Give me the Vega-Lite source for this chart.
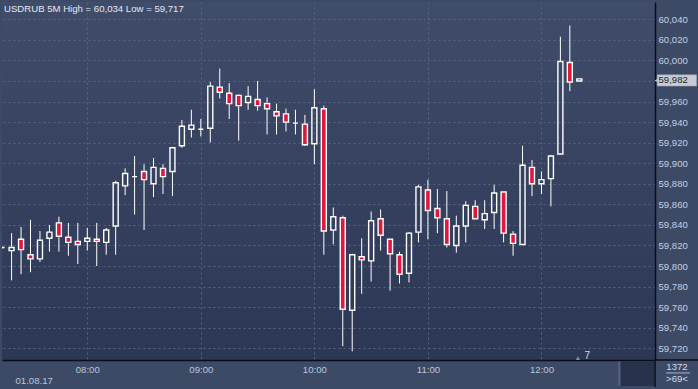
{
  "$schema": "https://vega.github.io/schema/vega-lite/v6.json",
  "width": 653,
  "height": 358,
  "autosize": {"type": "none"},
  "padding": {"left": 2, "top": 2, "right": 43, "bottom": 29},
  "background": "#3d4a66",
  "config": {
    "font": "Liberation Sans",
    "view": {
      "stroke": null,
      "fill": {"gradient": "linear", "x1": 0, "y1": 0, "x2": 0, "y2": 1,
        "stops": [{"offset": 0, "color": "#3f4c6a"}, {"offset": 1, "color": "#2c3754"}]}
    }
  },
  "data": {
    "values": [
      {"t": "2017-08-01T07:15:00Z", "o": 59.818, "h": 59.819, "l": 59.817, "c": 59.818},
      {"t": "2017-08-01T07:20:00Z", "o": 59.815, "h": 59.832, "l": 59.786, "c": 59.818},
      {"t": "2017-08-01T07:25:00Z", "o": 59.826, "h": 59.838, "l": 59.792, "c": 59.816},
      {"t": "2017-08-01T07:30:00Z", "o": 59.811, "h": 59.845, "l": 59.794, "c": 59.807},
      {"t": "2017-08-01T07:35:00Z", "o": 59.807, "h": 59.834, "l": 59.804, "c": 59.825},
      {"t": "2017-08-01T07:40:00Z", "o": 59.827, "h": 59.840, "l": 59.814, "c": 59.833},
      {"t": "2017-08-01T07:45:00Z", "o": 59.842, "h": 59.848, "l": 59.814, "c": 59.829},
      {"t": "2017-08-01T07:50:00Z", "o": 59.828, "h": 59.842, "l": 59.810, "c": 59.823},
      {"t": "2017-08-01T07:55:00Z", "o": 59.824, "h": 59.842, "l": 59.802, "c": 59.821},
      {"t": "2017-08-01T08:00:00Z", "o": 59.824, "h": 59.837, "l": 59.815, "c": 59.827},
      {"t": "2017-08-01T08:05:00Z", "o": 59.826, "h": 59.842, "l": 59.800, "c": 59.824},
      {"t": "2017-08-01T08:10:00Z", "o": 59.823, "h": 59.837, "l": 59.811, "c": 59.835},
      {"t": "2017-08-01T08:15:00Z", "o": 59.839, "h": 59.883, "l": 59.811, "c": 59.881},
      {"t": "2017-08-01T08:20:00Z", "o": 59.878, "h": 59.895, "l": 59.869, "c": 59.890},
      {"t": "2017-08-01T08:25:00Z", "o": 59.887, "h": 59.907, "l": 59.850, "c": 59.887},
      {"t": "2017-08-01T08:30:00Z", "o": 59.892, "h": 59.899, "l": 59.835, "c": 59.884},
      {"t": "2017-08-01T08:35:00Z", "o": 59.880, "h": 59.905, "l": 59.867, "c": 59.896},
      {"t": "2017-08-01T08:40:00Z", "o": 59.895, "h": 59.899, "l": 59.870, "c": 59.887},
      {"t": "2017-08-01T08:45:00Z", "o": 59.892, "h": 59.916, "l": 59.868, "c": 59.915},
      {"t": "2017-08-01T08:50:00Z", "o": 59.917, "h": 59.942, "l": 59.915, "c": 59.936},
      {"t": "2017-08-01T08:55:00Z", "o": 59.933, "h": 59.952, "l": 59.925, "c": 59.937},
      {"t": "2017-08-01T09:00:00Z", "o": 59.933, "h": 59.943, "l": 59.926, "c": 59.933},
      {"t": "2017-08-01T09:05:00Z", "o": 59.934, "h": 59.979, "l": 59.920, "c": 59.975},
      {"t": "2017-08-01T09:10:00Z", "o": 59.974, "h": 59.992, "l": 59.963, "c": 59.969},
      {"t": "2017-08-01T09:15:00Z", "o": 59.968, "h": 59.978, "l": 59.943, "c": 59.958},
      {"t": "2017-08-01T09:20:00Z", "o": 59.966, "h": 59.967, "l": 59.922, "c": 59.956},
      {"t": "2017-08-01T09:25:00Z", "o": 59.959, "h": 59.975, "l": 59.952, "c": 59.965},
      {"t": "2017-08-01T09:30:00Z", "o": 59.962, "h": 59.980, "l": 59.951, "c": 59.956},
      {"t": "2017-08-01T09:35:00Z", "o": 59.958, "h": 59.964, "l": 59.928, "c": 59.953},
      {"t": "2017-08-01T09:40:00Z", "o": 59.950, "h": 59.958, "l": 59.928, "c": 59.946},
      {"t": "2017-08-01T09:45:00Z", "o": 59.948, "h": 59.953, "l": 59.931, "c": 59.940},
      {"t": "2017-08-01T09:50:00Z", "o": 59.939, "h": 59.952, "l": 59.928, "c": 59.939},
      {"t": "2017-08-01T09:55:00Z", "o": 59.938, "h": 59.947, "l": 59.917, "c": 59.918},
      {"t": "2017-08-01T10:00:00Z", "o": 59.919, "h": 59.972, "l": 59.899, "c": 59.954},
      {"t": "2017-08-01T10:05:00Z", "o": 59.953, "h": 59.956, "l": 59.811, "c": 59.834},
      {"t": "2017-08-01T10:10:00Z", "o": 59.835, "h": 59.857, "l": 59.821, "c": 59.848},
      {"t": "2017-08-01T10:15:00Z", "o": 59.847, "h": 59.849, "l": 59.722, "c": 59.758},
      {"t": "2017-08-01T10:20:00Z", "o": 59.757, "h": 59.812, "l": 59.717, "c": 59.811},
      {"t": "2017-08-01T10:25:00Z", "o": 59.809, "h": 59.827, "l": 59.773, "c": 59.806},
      {"t": "2017-08-01T10:30:00Z", "o": 59.805, "h": 59.853, "l": 59.785, "c": 59.844},
      {"t": "2017-08-01T10:35:00Z", "o": 59.846, "h": 59.855, "l": 59.815, "c": 59.830},
      {"t": "2017-08-01T10:40:00Z", "o": 59.826, "h": 59.826, "l": 59.776, "c": 59.812},
      {"t": "2017-08-01T10:45:00Z", "o": 59.811, "h": 59.814, "l": 59.783, "c": 59.792},
      {"t": "2017-08-01T10:50:00Z", "o": 59.793, "h": 59.833, "l": 59.784, "c": 59.832},
      {"t": "2017-08-01T10:55:00Z", "o": 59.833, "h": 59.879, "l": 59.823, "c": 59.877},
      {"t": "2017-08-01T11:00:00Z", "o": 59.874, "h": 59.884, "l": 59.826, "c": 59.854},
      {"t": "2017-08-01T11:05:00Z", "o": 59.856, "h": 59.875, "l": 59.832, "c": 59.847},
      {"t": "2017-08-01T11:10:00Z", "o": 59.846, "h": 59.873, "l": 59.818, "c": 59.821},
      {"t": "2017-08-01T11:15:00Z", "o": 59.820, "h": 59.849, "l": 59.813, "c": 59.839},
      {"t": "2017-08-01T11:20:00Z", "o": 59.839, "h": 59.863, "l": 59.823, "c": 59.859},
      {"t": "2017-08-01T11:25:00Z", "o": 59.858, "h": 59.864, "l": 59.846, "c": 59.846},
      {"t": "2017-08-01T11:30:00Z", "o": 59.845, "h": 59.864, "l": 59.836, "c": 59.851},
      {"t": "2017-08-01T11:35:00Z", "o": 59.852, "h": 59.879, "l": 59.836, "c": 59.871},
      {"t": "2017-08-01T11:40:00Z", "o": 59.872, "h": 59.872, "l": 59.823, "c": 59.832},
      {"t": "2017-08-01T11:45:00Z", "o": 59.831, "h": 59.834, "l": 59.810, "c": 59.822},
      {"t": "2017-08-01T11:50:00Z", "o": 59.821, "h": 59.917, "l": 59.821, "c": 59.898},
      {"t": "2017-08-01T11:55:00Z", "o": 59.896, "h": 59.903, "l": 59.868, "c": 59.880},
      {"t": "2017-08-01T12:00:00Z", "o": 59.880, "h": 59.892, "l": 59.870, "c": 59.884},
      {"t": "2017-08-01T12:05:00Z", "o": 59.885, "h": 59.908, "l": 59.858, "c": 59.907},
      {"t": "2017-08-01T12:10:00Z", "o": 59.909, "h": 60.023, "l": 59.909, "c": 59.999},
      {"t": "2017-08-01T12:15:00Z", "o": 59.998, "h": 60.034, "l": 59.970, "c": 59.979},
      {"t": "2017-08-01T12:20:00Z", "o": 59.980, "h": 59.982, "l": 59.980, "c": 59.982}
    ]
  },
  "encoding": {
    "x": {
      "field": "t", "type": "temporal",
      "scale": {"type": "utc", "padding": 0, "domain": [
        {"year": 2017, "month": 8, "date": 1, "hours": 7, "minutes": 14, "seconds": 56, "utc": true},
        {"year": 2017, "month": 8, "date": 1, "hours": 13, "minutes": 0, "utc": true}]},
      "axis": {
        "values": [
          {"year": 2017, "month": 8, "date": 1, "hours": 8, "utc": true},
          {"year": 2017, "month": 8, "date": 1, "hours": 9, "utc": true},
          {"year": 2017, "month": 8, "date": 1, "hours": 10, "utc": true},
          {"year": 2017, "month": 8, "date": 1, "hours": 11, "utc": true},
          {"year": 2017, "month": 8, "date": 1, "hours": 12, "utc": true}],
        "format": "%H:%M",
        "ticks": false,
        "grid": true, "gridColor": "#58657f", "gridDash": [2, 3], "gridWidth": 1,
        "domainColor": "#0b0e16", "domainWidth": 1.5,
        "labelColor": "#b9c7dc", "labelFontSize": 9.6, "labelPadding": 4,
        "title": "01.08.17", "titleAnchor": "start", "titleAlign": "left",
        "titleBaseline": "alphabetic", "titleX": 13, "titleY": 23,
        "titleColor": "#b9c7dc", "titleFontSize": 9.6, "titleFontWeight": "normal"
      }
    },
    "y": {
      "type": "quantitative",
      "scale": {"domain": [59.7086, 60.0568], "zero": false, "nice": false, "padding": 0},
      "axis": {
        "orient": "right",
        "values": [59.72, 59.74, 59.76, 59.78, 59.80, 59.82, 59.84, 59.86, 59.88, 59.90, 59.92, 59.94, 59.96, 59.98, 60.00, 60.02, 60.04],
        "labelExpr": "replace(format(datum.value, '.3f'), '.', ',')",
        "ticks": false,
        "grid": true, "gridColor": "#58657f", "gridDash": [2, 3], "gridWidth": 1,
        "domainColor": "#0b0e16", "domainWidth": 1.5,
        "labelColor": "#c3cfe2", "labelFontSize": 9.6, "labelPadding": 3,
        "title": null
      }
    }
  },
  "layer": [
    {
      "mark": {"type": "rule", "color": "#ffffff", "strokeWidth": 1, "clip": true},
      "encoding": {"y": {"field": "l"}, "y2": {"field": "o"}}
    },
    {
      "mark": {"type": "rule", "color": "#ffffff", "strokeWidth": 1, "clip": true},
      "encoding": {"y": {"field": "c"}, "y2": {"field": "h"}}
    },
    {
      "mark": {"type": "bar", "width": 5, "stroke": "#ffffff", "strokeWidth": 1.4, "clip": true},
      "encoding": {
        "y": {"field": "o"}, "y2": {"field": "c"},
        "fill": {"condition": {"test": "datum.c < datum.o", "value": "#e0163f"}, "value": "transparent"}
      }
    },
    {
      "transform": [{"filter": "datum.h == 60.034"}],
      "layer": [
        {
          "mark": {"type": "text", "text": "USDRUB 5M High = 60,034 Low = 59,717", "align": "left", "baseline": "alphabetic", "fontSize": 9.6, "color": "#e6e9ef"},
          "encoding": {
            "x": {"datum": {"year": 2017, "month": 8, "date": 1, "hours": 7, "minutes": 16, "seconds": 0, "utc": true}},
            "y": {"datum": 60.0472}
          }
        },
        {
          "mark": {"type": "rect", "fill": "#27314b"},
          "encoding": {
            "x": {"datum": {"year": 2017, "month": 8, "date": 1, "hours": 12, "minutes": 42, "seconds": 2, "utc": true}},
            "x2": {"datum": {"year": 2017, "month": 8, "date": 1, "hours": 12, "minutes": 59, "seconds": 28, "utc": true}},
            "y": {"datum": 59.7074}, "y2": {"datum": 59.6833}
          }
        },
        {
          "mark": {"type": "rule", "color": "#66738c", "strokeWidth": 1},
          "encoding": {
            "x": {"datum": {"year": 2017, "month": 8, "date": 1, "hours": 12, "minutes": 41, "seconds": 0, "utc": true}},
            "y": {"datum": 59.7074}, "y2": {"datum": 59.6833}
          }
        },
        {
          "mark": {"type": "rule", "color": "#0b0e16", "strokeWidth": 1.5},
          "encoding": {
            "x": {"datum": {"year": 2017, "month": 8, "date": 1, "hours": 13, "minutes": 0, "seconds": 0, "utc": true}},
            "y": {"datum": 59.7086}, "y2": {"datum": 59.6823}
          }
        },
        {
          "mark": {"type": "rule", "color": "#0b0e16", "strokeWidth": 1.5},
          "encoding": {
            "x": {"datum": {"year": 2017, "month": 8, "date": 1, "hours": 13, "minutes": 0, "seconds": 0, "utc": true}},
            "x2": {"datum": {"year": 2017, "month": 8, "date": 1, "hours": 13, "minutes": 23, "seconds": 0, "utc": true}},
            "y": {"datum": 59.7086}
          }
        },
        {
          "mark": {"type": "point", "shape": "triangle-left", "filled": true, "size": 28, "color": "#c6cbd4", "opacity": 1},
          "encoding": {
            "x": {"datum": {"year": 2017, "month": 8, "date": 1, "hours": 13, "minutes": 1, "seconds": 0, "utc": true}},
            "y": {"datum": 59.9805}
          }
        },
        {
          "mark": {"type": "rect", "fill": "#c6cbd4", "stroke": "#9aa2b0", "strokeWidth": 0.5},
          "encoding": {
            "x": {"datum": {"year": 2017, "month": 8, "date": 1, "hours": 13, "minutes": 1, "seconds": 10, "utc": true}},
            "x2": {"datum": {"year": 2017, "month": 8, "date": 1, "hours": 13, "minutes": 22, "utc": true}},
            "y": {"datum": 59.986}, "y2": {"datum": 59.975}
          }
        },
        {
          "mark": {"type": "text", "text": "59,982", "align": "left", "baseline": "middle", "fontSize": 9.6, "color": "#1e2330"},
          "encoding": {
            "x": {"datum": {"year": 2017, "month": 8, "date": 1, "hours": 13, "minutes": 1, "seconds": 50, "utc": true}},
            "y": {"datum": 59.9805}
          }
        },
        {
          "mark": {"type": "point", "shape": "triangle-up", "filled": true, "size": 18, "color": "#7e8ba3", "opacity": 1},
          "encoding": {
            "x": {"datum": {"year": 2017, "month": 8, "date": 1, "hours": 12, "minutes": 19, "seconds": 17, "utc": true}},
            "y": {"datum": 59.7105}
          }
        },
        {
          "mark": {"type": "text", "text": "7", "align": "center", "baseline": "middle", "fontSize": 10, "color": "#d4dbe6"},
          "encoding": {
            "x": {"datum": {"year": 2017, "month": 8, "date": 1, "hours": 12, "minutes": 24, "seconds": 14, "utc": true}},
            "y": {"datum": 59.7125}
          }
        },
        {
          "mark": {"type": "text", "text": "1372", "align": "center", "baseline": "middle", "fontSize": 9.6, "color": "#d4dbe6"},
          "encoding": {
            "x": {"datum": {"year": 2017, "month": 8, "date": 1, "hours": 13, "minutes": 11, "seconds": 37, "utc": true}},
            "y": {"datum": 59.7018}
          }
        },
        {
          "mark": {"type": "rule", "color": "#aab4c4", "strokeWidth": 1},
          "encoding": {
            "x": {"datum": {"year": 2017, "month": 8, "date": 1, "hours": 13, "minutes": 5, "seconds": 49, "utc": true}},
            "x2": {"datum": {"year": 2017, "month": 8, "date": 1, "hours": 13, "minutes": 18, "seconds": 30, "utc": true}},
            "y": {"datum": 59.6960}
          }
        },
        {
          "mark": {"type": "text", "text": ">69<", "align": "center", "baseline": "middle", "fontSize": 9.6, "color": "#d4dbe6"},
          "encoding": {
            "x": {"datum": {"year": 2017, "month": 8, "date": 1, "hours": 13, "minutes": 11, "seconds": 37, "utc": true}},
            "y": {"datum": 59.6901}
          }
        }
      ]
    }
  ]
}
